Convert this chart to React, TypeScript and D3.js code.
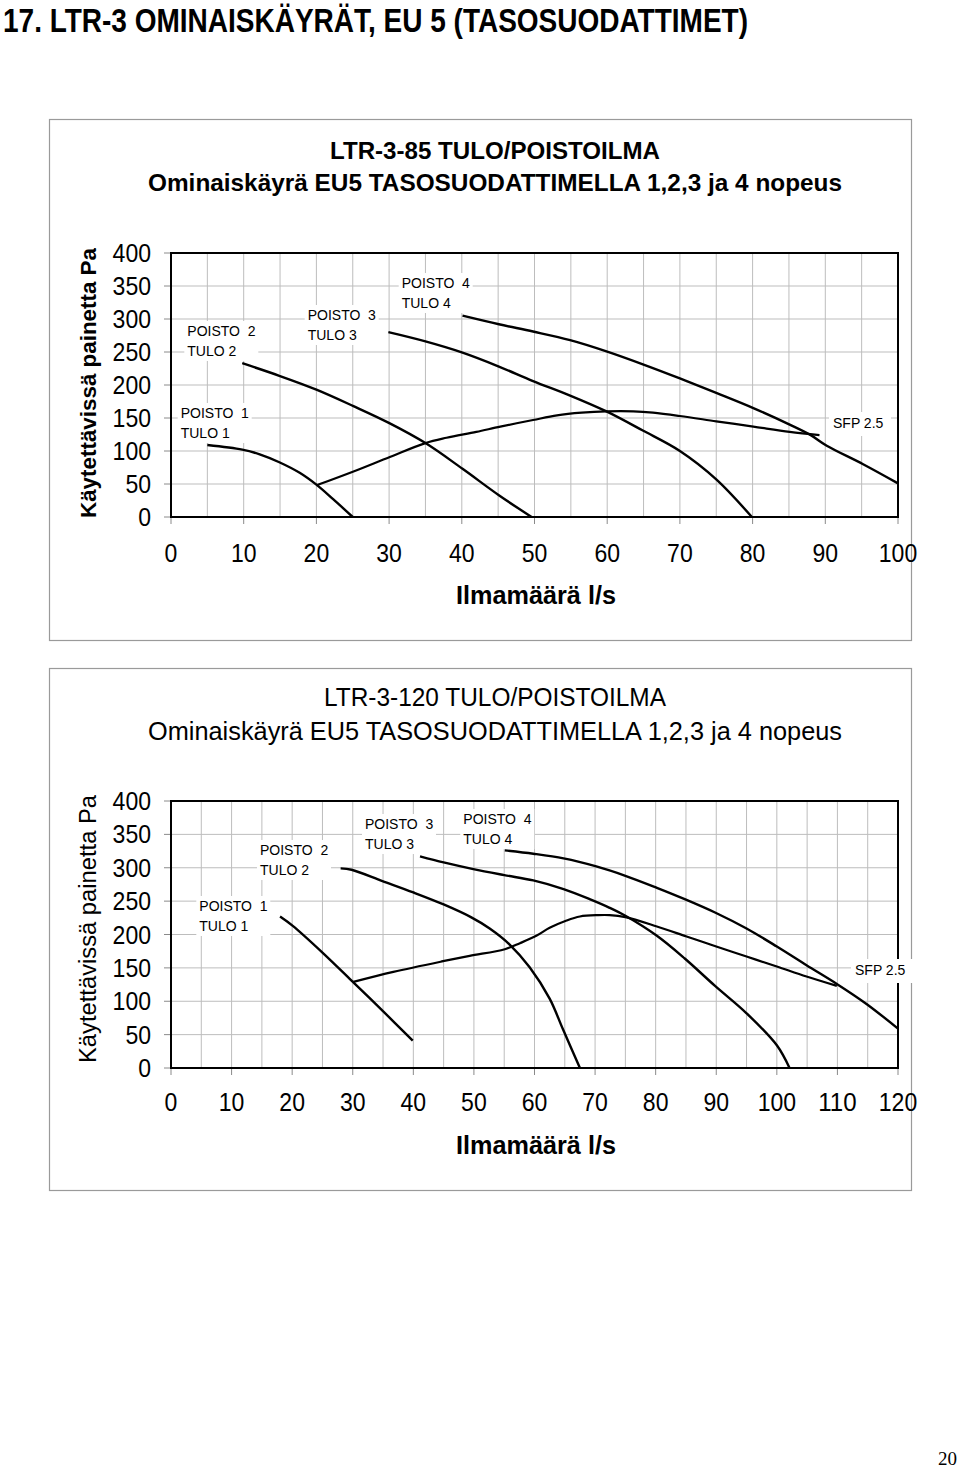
import React from "react";
import * as d3 from "d3";

// ---------- DATA ----------
const pageTitle = "17. LTR-3 OMINAISKÄYRÄT, EU 5 (TASOSUODATTIMET)";
const yAxisTitle = "Käytettävissä painetta Pa";
const xAxisTitle = "Ilmamäärä l/s";
const subtitle = "Ominaiskäyrä EU5 TASOSUODATTIMELLA 1,2,3 ja 4 nopeus";
const title85 = "LTR-3-85 TULO/POISTOILMA";
const title120 = "LTR-3-120 TULO/POISTOILMA";
const yTicks = [0, 50, 100, 150, 200, 250, 300, 350, 400];
const xTicks85 = [0, 10, 20, 30, 40, 50, 60, 70, 80, 90, 100];
const xTicks120 = [0, 10, 20, 30, 40, 50, 60, 70, 80, 90, 100, 110, 120];
const speedNames = ["1", "2", "3", "4"];
const sfpLabel = "SFP 2.5";

// LTR-3-85 curves [l/s, Pa]
const s85_1: [number, number][] = [[5.0, 109], [9.8, 102], [12.2, 95], [14.9, 83], [17.7, 67], [20, 49], [22.3, 27], [25, 0]];
const s85_2: [number, number][] = [[9.8, 233], [14.9, 214], [20, 193], [25.1, 168], [29.9, 143], [35, 112], [40.1, 73], [45.1, 33], [49.6, 0]];
const s85_3: [number, number][] = [[29.9, 280], [35, 266], [40.1, 249], [45.1, 228], [49.8, 206], [54.9, 184], [59.9, 160], [64.9, 131], [70, 100], [75, 57], [79.9, 0]];
const s85_4: [number, number][] = [[40.1, 305], [45.1, 292], [49.8, 281], [54.9, 268], [59.9, 251], [65, 231], [70, 210], [75, 188], [80.1, 165], [85.1, 140], [88, 124], [90.2, 108], [95.2, 80], [100, 51]];
const sfp85: [number, number][] = [[20, 48], [25.1, 69], [30.1, 91], [35, 112], [37.9, 120], [42, 129], [45.3, 137], [49.8, 147], [53.1, 154], [56.5, 158], [59.9, 160], [63.6, 160], [66.3, 158], [70, 153], [75, 145], [80.1, 137], [85.1, 129], [89.2, 124]];

// LTR-3-120 curves [l/s, Pa]
const s120_1: [number, number][] = [[18, 227], [20.1, 213], [25, 173], [29.8, 131], [34.9, 86], [39.9, 41]];
const s120_2: [number, number][] = [[28, 299], [29.8, 297], [34.9, 280], [40, 263], [45, 245], [49.5, 226], [52.6, 209], [55.9, 185], [59.2, 151], [62.5, 104], [64.7, 58], [67.5, 0]];
const s120_3: [number, number][] = [[41.1, 317], [45, 308], [49.9, 298], [55, 289], [59.8, 281], [64.8, 268], [69.1, 253], [72.4, 240], [75, 228], [80.2, 198], [84.8, 164], [89.8, 123], [95, 82], [100, 34], [102.1, 0]];
const s120_4: [number, number][] = [[55.1, 326], [59.8, 321], [64.8, 314], [70.2, 302], [75, 288], [80.2, 270], [84.8, 253], [89.8, 233], [95, 209], [100, 182], [104.9, 154], [109.9, 126], [114.8, 96], [120, 59]];
const sfp120: [number, number][] = [[30.1, 129], [36.7, 144], [44.9, 160], [49.3, 168], [55.1, 178], [57.6, 187], [60.3, 198], [62.5, 210], [65.3, 221], [67.5, 227], [70.5, 229], [72.4, 229], [75, 226], [80.2, 212], [85.1, 197], [90, 182], [95, 167], [100, 152], [104.9, 137], [109.9, 123]];

// ---------- LAYOUT ----------
const FONT = "'Liberation Sans', Arial, sans-serif";

type ChartCfg = {
  frame: [number, number, number, number];
  plot: { x0: number; x1: number; y0: number; y1: number };
  xMax: number;
  xTicks: number[];
  series: [number, number][][];
  sfp: [number, number][];
  titles: { text: string; y: number; len: number; size: number; weight: string }[];
  labels: { x: number; y: number }[];
  sfpPos: { x: number; y: number };
  xLabelY: number;
  xTitleY: number;
  yTitle: { x: number; y: number; len: number; size: number; weight: string };
};

const charts: ChartCfg[] = [
  {
    frame: [49, 119, 862, 521],
    plot: { x0: 171, x1: 898, y0: 517, y1: 253 },
    xMax: 100,
    xTicks: xTicks85,
    series: [s85_1, s85_2, s85_3, s85_4],
    sfp: sfp85,
    titles: [
      { text: title85, y: 159, len: 330, size: 24, weight: "bold" },
      { text: subtitle, y: 191, len: 694, size: 24, weight: "bold" },
    ],
    labels: [
      { x: 180.7, y: 418 },
      { x: 187.3, y: 336 },
      { x: 307.7, y: 320 },
      { x: 401.7, y: 288 },
    ],
    sfpPos: { x: 833, y: 428 },
    xLabelY: 562,
    xTitleY: 604,
    yTitle: { x: 88, y: 383, len: 270, size: 22, weight: "bold" },
  },
  {
    frame: [49, 668, 862, 522],
    plot: { x0: 171, x1: 898, y0: 1068, y1: 801 },
    xMax: 120,
    xTicks: xTicks120,
    series: [s120_1, s120_2, s120_3, s120_4],
    sfp: sfp120,
    titles: [
      { text: title120, y: 706, len: 342, size: 25, weight: "normal" },
      { text: subtitle, y: 740, len: 694, size: 25, weight: "normal" },
    ],
    labels: [
      { x: 199.3, y: 911 },
      { x: 260, y: 855 },
      { x: 365, y: 829 },
      { x: 463.3, y: 824 },
    ],
    sfpPos: { x: 855, y: 975 },
    xLabelY: 1111,
    xTitleY: 1154,
    yTitle: { x: 88, y: 929, len: 268, size: 23, weight: "normal" },
  },
];

const numLen = (v: number) => String(v).length * 12.8;

function Chart({ c }: { c: ChartCfg }) {
  const x = d3.scaleLinear().domain([0, c.xMax]).range([c.plot.x0, c.plot.x1]);
  const y = d3.scaleLinear().domain([0, 400]).range([c.plot.y0, c.plot.y1]);
  const line = d3
    .line<[number, number]>()
    .x((d) => x(d[0]))
    .y((d) => y(d[1]))
    .curve(d3.curveCatmullRom.alpha(0.5));
  const xGrid = d3.range(0, c.xMax + 0.001, 5);
  const yGrid = d3.range(0, 401, 50);
  const [fx, fy, fw, fh] = c.frame;
  return (
    <g>
      <rect x={fx + 0.5} y={fy + 0.5} width={fw} height={fh} fill="#fff" stroke="#9a9a9a" strokeWidth={1.2} />
      {c.titles.map((t, i) => (
        <text key={i} x={495} y={t.y} textAnchor="middle" fontFamily={FONT} fontSize={t.size} fontWeight={t.weight} textLength={t.len} lengthAdjust="spacingAndGlyphs" fill="#000">
          {t.text}
        </text>
      ))}
      {xGrid.map((v) => (
        <line key={"gx" + v} x1={x(v)} x2={x(v)} y1={c.plot.y1} y2={c.plot.y0} stroke="#bdbdbd" strokeWidth={1} />
      ))}
      {yGrid.map((v) => (
        <line key={"gy" + v} x1={c.plot.x0} x2={c.plot.x1} y1={y(v)} y2={y(v)} stroke="#bdbdbd" strokeWidth={1} />
      ))}
      {yGrid.map((v) => (
        <line key={"ty" + v} x1={c.plot.x0 - 7} x2={c.plot.x0} y1={y(v)} y2={y(v)} stroke="#8a8a8a" strokeWidth={1} />
      ))}
      {c.xTicks.map((v) => (
        <line key={"tx" + v} x1={x(v)} x2={x(v)} y1={c.plot.y0} y2={c.plot.y0 + 7} stroke="#8a8a8a" strokeWidth={1} />
      ))}
      {c.labels.map((l, i) => (
        <rect key={"lb" + i} x={l.x - 3} y={l.y - 15} width={74} height={40} fill="#fff" />
      ))}
      <rect x={c.sfpPos.x - 4} y={c.sfpPos.y - 16} width={60} height={24} fill="#fff" />
      <rect x={c.plot.x0} y={c.plot.y1} width={c.plot.x1 - c.plot.x0} height={c.plot.y0 - c.plot.y1} fill="none" stroke="#000" strokeWidth={2} />
      <rect x={c.sfpPos.x + 38} y={c.sfpPos.y - 16} width={20} height={24} fill="#fff" />
      {c.series.map((s, i) => (
        <path key={"s" + i} d={line(s) || ""} fill="none" stroke="#000" strokeWidth={2.4} strokeLinejoin="round" />
      ))}
      <path d={line(c.sfp) || ""} fill="none" stroke="#000" strokeWidth={2.2} />
      {c.labels.map((l, i) => (
        <g key={"lt" + i} fontFamily={FONT} fontSize={14} fill="#000">
          <text x={l.x} y={l.y} style={{ whiteSpace: "pre" }} xmlSpace="preserve">{"POISTO  " + speedNames[i]}</text>
          <text x={l.x} y={l.y + 20}>{"TULO " + speedNames[i]}</text>
        </g>
      ))}
      <text x={c.sfpPos.x} y={c.sfpPos.y} fontFamily={FONT} fontSize={14} fill="#000">{sfpLabel}</text>
      {yTicks.map((v) => (
        <text key={"yl" + v} x={151} y={y(v) + 9} textAnchor="end" fontFamily={FONT} fontSize={25} textLength={numLen(v)} lengthAdjust="spacingAndGlyphs" fill="#000">{v}</text>
      ))}
      {c.xTicks.map((v) => (
        <text key={"xl" + v} x={x(v)} y={c.xLabelY} textAnchor="middle" fontFamily={FONT} fontSize={25} textLength={numLen(v)} lengthAdjust="spacingAndGlyphs" fill="#000">{v}</text>
      ))}
      <text x={536} y={c.xTitleY} textAnchor="middle" fontFamily={FONT} fontSize={26} fontWeight="bold" textLength={160} lengthAdjust="spacingAndGlyphs" fill="#000">
        {xAxisTitle}
      </text>
      <text transform={`translate(${c.yTitle.x + 8},${c.yTitle.y}) rotate(-90)`} textAnchor="middle" fontFamily={FONT} fontSize={c.yTitle.size} fontWeight={c.yTitle.weight} textLength={c.yTitle.len} lengthAdjust="spacingAndGlyphs" fill="#000">
        {yAxisTitle}
      </text>
    </g>
  );
}

export default function App() {
  return (
    <svg width={960} height={1470} viewBox="0 0 960 1470" style={{ position: "absolute", left: 0, top: 0, background: "#fff" }}>
      <rect x={0} y={0} width={960} height={1470} fill="#fff" />
      <text x={3} y={32} fontFamily={FONT} fontSize={33} fontWeight="bold" textLength={745} lengthAdjust="spacingAndGlyphs" fill="#000">
        {pageTitle}
      </text>
      {charts.map((c, i) => (
        <Chart key={i} c={c} />
      ))}
      <text x={957} y={1465} textAnchor="end" fontFamily="'Liberation Serif', 'Times New Roman', serif" fontSize={19} fill="#000">20</text>
    </svg>
  );
}
